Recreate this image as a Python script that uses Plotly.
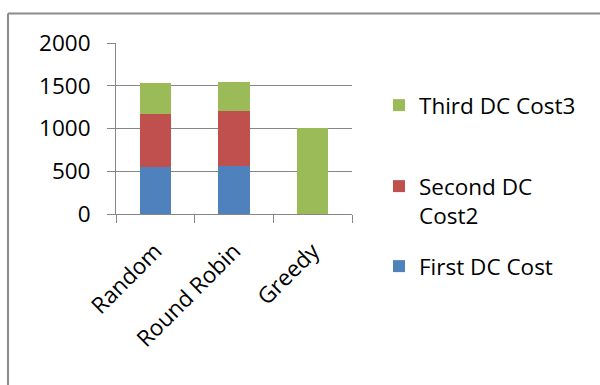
import plotly.graph_objects as go

categories = ["Random", "Round Robin", "Greedy"]
first_cost = [550, 565, 0]
second_cost = [625, 640, 0]
third_cost = [358, 340, 1005]
series_names = ["First DC Cost", "Second DC<br>Cost2", "Third DC Cost3"]
colors = ["#4F81BD", "#C0504D", "#9BBB59"]
y_ticks = [0, 500, 1000, 1500, 2000]

W, H = 600, 385
L, R, T, B = 116, 248, 43, 171
pw, ph = W - L - R, H - T - B

legend_ids = ["legend3", "legend2", "legend"]
legend_tops = [245, 165, 84]

fig = go.Figure()
for i, (name, vals) in enumerate(zip(series_names, [first_cost, second_cost, third_cost])):
    fig.add_trace(go.Bar(x=categories, y=vals, name=name, marker_color=colors[i],
                         marker_line_width=0, legend=legend_ids[i]))

font = dict(family="Open Sans", size=22.5, color="#000000")
grid = "#868686"

legend_x = (379 - L) / pw
legends = {}
for lid, top in zip(legend_ids, legend_tops):
    legends[lid] = dict(x=legend_x, y=1 - (top - T) / ph, xanchor="left", yanchor="top",
                        valign="top", font=font, bgcolor="rgba(0,0,0,0)", maxheight=400)

fig.update_layout(
    width=W, height=H, margin=dict(l=L, r=R, t=T, b=B),
    barmode="stack", bargap=0.6,
    plot_bgcolor="white", paper_bgcolor="white",
    font=font,
    xaxis=dict(showgrid=False, showline=True, linecolor=grid, linewidth=1,
               ticks="outside", tickson="boundaries", ticklen=8, tickcolor=grid,
               tickangle=-45, tickfont=font, ticklabelstandoff=14),
    yaxis=dict(range=[0, 2000], tickvals=y_ticks, showgrid=True, gridcolor=grid, gridwidth=1,
               showline=True, linecolor=grid, linewidth=1, ticks="outside", ticklen=8,
               tickcolor=grid, zeroline=False, tickfont=font, ticklabelstandoff=12),
    showlegend=True,
    **legends,
)

# outer chart border (top and left edges visible)
x0 = (8 - L) / pw
x1 = (W + 5 - L) / pw
yt = 1 + (T - 13.5) / ph
yb = -(B + 5) / ph
fig.add_shape(type="line", xref="paper", yref="paper", x0=x0, x1=x1, y0=yt, y1=yt,
              line=dict(color="#8C8C8C", width=2))
fig.add_shape(type="line", xref="paper", yref="paper", x0=x0, x1=x0, y0=yt, y1=yb,
              line=dict(color="#8C8C8C", width=2))

fig.write_html("out.html")
